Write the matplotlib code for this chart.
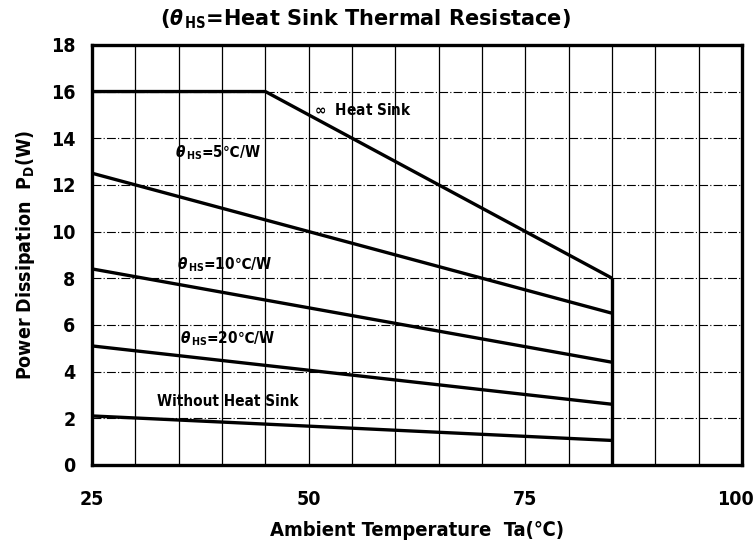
import matplotlib
matplotlib.use("Agg")
import matplotlib.pyplot as plt
from matplotlib.transforms import ScaledTranslation
import numpy as np

plt.rcParams['font.family'] = ['DejaVu Sans']
plt.rcParams['font.stretch'] = 'condensed'
plt.rcParams['font.weight'] = 'bold'
plt.rcParams['axes.labelweight'] = 'bold'
plt.rcParams['mathtext.fontset'] = 'custom'
plt.rcParams['mathtext.rm'] = 'DejaVu Sans:bold'
plt.rcParams['mathtext.it'] = 'DejaVu Sans:italic:bold'

# derating curves (Ta in degC, Pd in W)
ta_inf = [25, 45, 85]
pd_inf = [16, 16, 8]
ta_lin = [25, 85]
pd_5 = [12.5, 6.5]
pd_10 = [8.4, 4.4]
pd_20 = [5.1, 2.6]
pd_none = [2.1, 1.05]
cutoff_ta = [85, 85]
cutoff_pd = [8, 0]

xgrid = np.arange(25, 101, 5)
ygrid = np.arange(2, 18, 2)
xticks = [25, 50, 75, 100]
yticks = list(range(0, 19, 2))

fig = plt.figure(figsize=(7.56, 5.47), dpi=100)
ax = fig.add_axes([0.1217, 0.150, 0.86, 0.768])
ax.set_xlim(25, 100)
ax.set_ylim(0, 18)

# grid: solid verticals every 5 degC, dash-dot horizontals every 2 W
for x in xgrid[1:-1]:
    ax.axvline(x, color="black", lw=0.9, zorder=1)
for y in ygrid:
    ax.axhline(y, color="black", lw=0.8, ls=(0, (8, 2, 1, 2)), zorder=1)

lw = 2.4
for ta, pd in [(ta_inf, pd_inf), (ta_lin, pd_5), (ta_lin, pd_10),
               (ta_lin, pd_20), (ta_lin, pd_none), (cutoff_ta, cutoff_pd)]:
    ax.plot(ta, pd, color="black", lw=lw, solid_capstyle="butt", zorder=3)

fs = 11
ax.text(50.6, 15.2, r"$\infty$  Heat Sink", fontsize=fs, ha="left", va="center")
ax.text(39.5, 13.4, r"$\theta_{\,\mathrm{HS}}$=5℃/W", fontsize=fs, ha="center", va="center")
ax.text(40.3, 8.6, r"$\theta_{\,\mathrm{HS}}$=10℃/W", fontsize=fs, ha="center", va="center")
ax.text(40.7, 5.4, r"$\theta_{\,\mathrm{HS}}$=20℃/W", fontsize=fs, ha="center", va="center")
ax.text(40.7, 2.7, "Without Heat Sink", fontsize=fs, ha="center", va="center")

ax.set_xticks(xticks)
ax.set_yticks(yticks)
ax.tick_params(length=0, labelsize=14)
ax.tick_params(axis="x", pad=18)
ax.tick_params(axis="y", pad=12)
# the "100" label sits a little left of its tick, as on the datasheet
last = ax.get_xticklabels()[-1]
last.set_transform(last.get_transform() + ScaledTranslation(-0.07, 0, fig.dpi_scale_trans))
for s in ax.spines.values():
    s.set_linewidth(2.4)

ax.set_xlabel("Ambient Temperature  Ta(℃)", fontsize=14.5, labelpad=9)
ax.set_ylabel(r"Power Dissipation  P$_\mathrm{D}$(W)", fontsize=14, labelpad=10)
fig.text(365 / 756, 1 - 19 / 547, r"($\theta_{\,\mathrm{HS}}$=Heat Sink Thermal Resistace)",
         fontsize=15, fontstretch="normal", ha="center", va="center")

fig.savefig("out.png", dpi=100, facecolor="white")
